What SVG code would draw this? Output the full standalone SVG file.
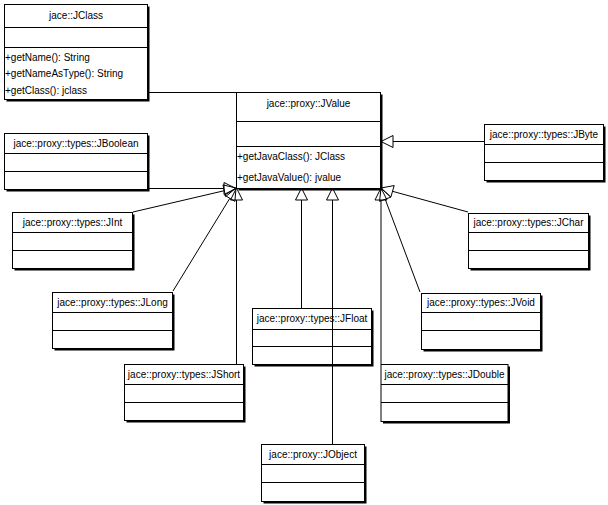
<svg xmlns="http://www.w3.org/2000/svg" width="608" height="505" viewBox="0 0 608 505">
<style>
.sh{fill:#000}
.bx{fill:#fff;stroke:#000;stroke-width:1}
.dv{stroke:#000;stroke-width:1}
.t{font-family:"Liberation Sans",Arial,sans-serif;font-size:10px;fill:#000}
.c{text-anchor:middle}
.ln{stroke:#000;stroke-width:1;fill:none}
.ah{stroke:#000;stroke-width:1;fill:none;stroke-linejoin:miter}
</style>
<rect width="608" height="505" fill="#fff"/>
<g id="connectors">
<line class="ln" x1="149" y1="92.5" x2="236" y2="92.5"/>
<line class="ln" x1="149" y1="188.5" x2="224" y2="188.5"/>
<polygon class="ah" points="236,188.5 224,182.5 224,194.5"/>
<line class="ln" x1="133" y1="212" x2="224.3" y2="190.7"/>
<polygon class="ah" points="236,188 225.66,196.55 222.96,184.85"/>
<line class="ln" x1="173" y1="291" x2="229.8" y2="198.3"/>
<polygon class="ah" points="236,188 234.91,201.37 224.65,195.15"/>
<line class="ln" x1="236.5" y1="364" x2="236.5" y2="200"/>
<polygon class="ah" points="236.5,188 230.5,200 242.5,200"/>
<line class="ln" x1="301.5" y1="308" x2="301.5" y2="200"/>
<polygon class="ah" points="301.5,188 295.5,200 307.5,200"/>
<line class="ln" x1="332.5" y1="444" x2="332.5" y2="200"/>
<polygon class="ah" points="332.5,188 326.5,200 338.5,200"/>
<line class="ln" x1="381" y1="364" x2="381" y2="200"/>
<polygon class="ah" points="381,188 375,200 387,200"/>
<line class="ln" x1="420" y1="292" x2="385.2" y2="199.2"/>
<polygon class="ah" points="381,188 390.83,197.13 379.59,201.35"/>
<line class="ln" x1="468" y1="212" x2="392.5" y2="191.3"/>
<polygon class="ah" points="381,188 394.19,185.54 390.87,197.08"/>
<line class="ln" x1="484" y1="141.5" x2="393" y2="141.5"/>
<polygon class="ah" points="381,141.5 393,135.5 393,147.5"/>
</g>
<g id="JClass">
<rect class="sh" x="6.5" y="6.5" width="143" height="95"/>
<rect class="bx" x="4.5" y="4.5" width="143" height="95"/>
<line class="dv" x1="4.5" y1="27.5" x2="147.5" y2="27.5"/>
<line class="dv" x1="4.5" y1="47.5" x2="147.5" y2="47.5"/>
<text class="t c" x="76" y="19">jace::JClass</text>
<text class="t" x="5" y="61">+getName(): String</text>
<text class="t" x="5" y="77">+getNameAsType(): String</text>
<text class="t" x="5" y="94">+getClass(): jclass</text>
</g>
<g id="JValue">
<rect class="sh" x="238.5" y="94.5" width="144" height="96"/>
<rect class="bx" x="236.5" y="92.5" width="144" height="96"/>
<line class="dv" x1="236.5" y1="121.5" x2="380.5" y2="121.5"/>
<line class="dv" x1="236.5" y1="146.5" x2="380.5" y2="146.5"/>
<text class="t c" x="308.5" y="107">jace::proxy::JValue</text>
<text class="t" x="237" y="160">+getJavaClass(): JClass</text>
<text class="t" x="237" y="181">+getJavaValue(): jvalue</text>
</g>
<g id="JBoolean">
<rect class="sh" x="6.5" y="135.5" width="143" height="56"/>
<rect class="bx" x="4.5" y="133.5" width="143" height="56"/>
<line class="dv" x1="4.5" y1="153.5" x2="147.5" y2="153.5"/>
<line class="dv" x1="4.5" y1="171.5" x2="147.5" y2="171.5"/>
<text class="t c" x="76" y="147">jace::proxy::types::JBoolean</text>
</g>
<g id="JByte">
<rect class="sh" x="486.5" y="126.5" width="119" height="56"/>
<rect class="bx" x="484.5" y="124.5" width="119" height="56"/>
<line class="dv" x1="484.5" y1="144.5" x2="603.5" y2="144.5"/>
<line class="dv" x1="484.5" y1="162.5" x2="603.5" y2="162.5"/>
<text class="t c" x="544" y="138">jace::proxy::types::JByte</text>
</g>
<g id="JInt">
<rect class="sh" x="14.5" y="214.5" width="120" height="56"/>
<rect class="bx" x="12.5" y="212.5" width="120" height="56"/>
<line class="dv" x1="12.5" y1="232.5" x2="132.5" y2="232.5"/>
<line class="dv" x1="12.5" y1="250.5" x2="132.5" y2="250.5"/>
<text class="t c" x="72.5" y="226">jace::proxy::types::JInt</text>
</g>
<g id="JChar">
<rect class="sh" x="470.5" y="215.5" width="120" height="55"/>
<rect class="bx" x="468.5" y="213.5" width="120" height="55"/>
<line class="dv" x1="468.5" y1="232.5" x2="588.5" y2="232.5"/>
<line class="dv" x1="468.5" y1="250.5" x2="588.5" y2="250.5"/>
<text class="t c" x="528.5" y="226">jace::proxy::types::JChar</text>
</g>
<g id="JLong">
<rect class="sh" x="54.5" y="294.5" width="120" height="56"/>
<rect class="bx" x="52.5" y="292.5" width="120" height="56"/>
<line class="dv" x1="52.5" y1="312.5" x2="172.5" y2="312.5"/>
<line class="dv" x1="52.5" y1="330.5" x2="172.5" y2="330.5"/>
<text class="t c" x="112.5" y="306">jace::proxy::types::JLong</text>
</g>
<g id="JVoid">
<rect class="sh" x="423.5" y="295.5" width="119" height="56"/>
<rect class="bx" x="421.5" y="293.5" width="119" height="56"/>
<line class="dv" x1="421.5" y1="312.5" x2="540.5" y2="312.5"/>
<line class="dv" x1="421.5" y1="330.5" x2="540.5" y2="330.5"/>
<text class="t c" x="481" y="306">jace::proxy::types::JVoid</text>
</g>
<g id="JFloat">
<rect class="sh" x="254.5" y="310.5" width="119" height="56"/>
<rect class="bx" x="252.5" y="308.5" width="119" height="56"/>
<line class="dv" x1="252.5" y1="329.5" x2="371.5" y2="329.5"/>
<line class="dv" x1="252.5" y1="346.5" x2="371.5" y2="346.5"/>
<text class="t c" x="312" y="322">jace::proxy::types::JFloat</text>
<line class="ln" x1="332.5" y1="308.5" x2="332.5" y2="364.5"/>
</g>
<g id="JShort">
<rect class="sh" x="126.5" y="366.5" width="119" height="56"/>
<rect class="bx" x="124.5" y="364.5" width="119" height="56"/>
<line class="dv" x1="124.5" y1="384.5" x2="243.5" y2="384.5"/>
<line class="dv" x1="124.5" y1="402.5" x2="243.5" y2="402.5"/>
<text class="t c" x="184" y="378">jace::proxy::types::JShort</text>
</g>
<g id="JDouble">
<rect class="sh" x="383" y="366.5" width="127" height="57"/>
<rect class="bx" x="381" y="364.5" width="127" height="57"/>
<line class="dv" x1="381" y1="384.5" x2="508" y2="384.5"/>
<line class="dv" x1="381" y1="402.5" x2="508" y2="402.5"/>
<text class="t c" x="444.5" y="378">jace::proxy::types::JDouble</text>
</g>
<g id="JObject">
<rect class="sh" x="263.5" y="446.5" width="103" height="57"/>
<rect class="bx" x="261.5" y="444.5" width="103" height="57"/>
<line class="dv" x1="261.5" y1="464.5" x2="364.5" y2="464.5"/>
<line class="dv" x1="261.5" y1="482.5" x2="364.5" y2="482.5"/>
<text class="t c" x="313" y="458">jace::proxy::JObject</text>
</g>
</svg>
